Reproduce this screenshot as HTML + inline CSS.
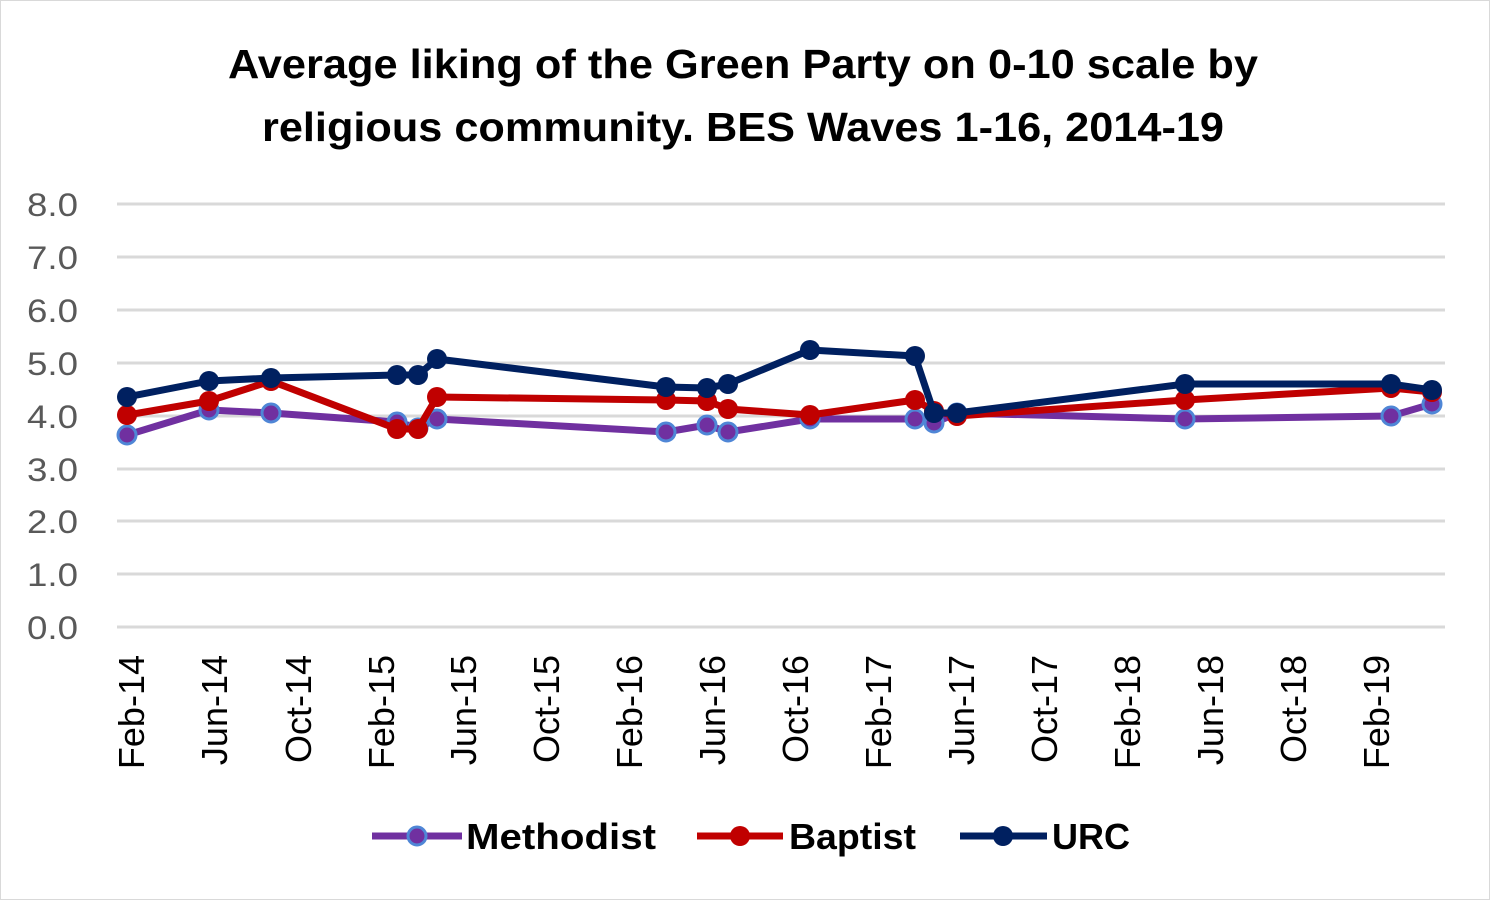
<!DOCTYPE html>
<html><head><style>body{margin:0;background:#fff}</style></head><body>
<svg width="1490" height="900" xmlns="http://www.w3.org/2000/svg" font-family="Liberation Sans, sans-serif">
<rect x="0.5" y="0.5" width="1489" height="899" fill="#fff" stroke="#d9d9d9"/>
<text x="228" y="78" textLength="1030" lengthAdjust="spacingAndGlyphs" font-size="41" font-weight="bold" fill="#000">Average liking of the Green Party on 0-10 scale by</text>
<text x="262" y="141" textLength="962" lengthAdjust="spacingAndGlyphs" font-size="41" font-weight="bold" fill="#000">religious community. BES Waves 1-16, 2014-19</text>
<g stroke="#d9d9d9" stroke-width="3">
<line x1="117" x2="1445" y1="204" y2="204"/><line x1="117" x2="1445" y1="257" y2="257"/><line x1="117" x2="1445" y1="310" y2="310"/><line x1="117" x2="1445" y1="363" y2="363"/><line x1="117" x2="1445" y1="416" y2="416"/><line x1="117" x2="1445" y1="469" y2="469"/><line x1="117" x2="1445" y1="521" y2="521"/><line x1="117" x2="1445" y1="574" y2="574"/><line x1="117" x2="1445" y1="627" y2="627"/>
</g>
<g font-size="32" fill="#595959">
<text x="27" y="216" textLength="51" lengthAdjust="spacingAndGlyphs">8.0</text><text x="27" y="269" textLength="51" lengthAdjust="spacingAndGlyphs">7.0</text><text x="27" y="322" textLength="51" lengthAdjust="spacingAndGlyphs">6.0</text><text x="27" y="375" textLength="51" lengthAdjust="spacingAndGlyphs">5.0</text><text x="27" y="428" textLength="51" lengthAdjust="spacingAndGlyphs">4.0</text><text x="27" y="481" textLength="51" lengthAdjust="spacingAndGlyphs">3.0</text><text x="27" y="533" textLength="51" lengthAdjust="spacingAndGlyphs">2.0</text><text x="27" y="586" textLength="51" lengthAdjust="spacingAndGlyphs">1.0</text><text x="27" y="639" textLength="51" lengthAdjust="spacingAndGlyphs">0.0</text>
</g>
<g font-size="36" fill="#000" text-anchor="end">
<text transform="translate(144,655) rotate(-90)">Feb-14</text>
<text transform="translate(227,655) rotate(-90)">Jun-14</text>
<text transform="translate(311,655) rotate(-90)">Oct-14</text>
<text transform="translate(394,655) rotate(-90)">Feb-15</text>
<text transform="translate(476,655) rotate(-90)">Jun-15</text>
<text transform="translate(559,655) rotate(-90)">Oct-15</text>
<text transform="translate(642,655) rotate(-90)">Feb-16</text>
<text transform="translate(725,655) rotate(-90)">Jun-16</text>
<text transform="translate(808,655) rotate(-90)">Oct-16</text>
<text transform="translate(891,655) rotate(-90)">Feb-17</text>
<text transform="translate(974,655) rotate(-90)">Jun-17</text>
<text transform="translate(1057,655) rotate(-90)">Oct-17</text>
<text transform="translate(1140,655) rotate(-90)">Feb-18</text>
<text transform="translate(1223,655) rotate(-90)">Jun-18</text>
<text transform="translate(1306,655) rotate(-90)">Oct-18</text>
<text transform="translate(1389,655) rotate(-90)">Feb-19</text>
</g>
<g fill="none" stroke-width="7" stroke-linejoin="round">
<polyline stroke="#7030a0" points="127,435 209,410 271,413 397,422 418,428 437,419 666,432 707,425 728,432 810,419 915,419 934,423 957,413 1185,419 1391,416 1432,404"/>
</g>
<g fill="#7030a0" stroke="#4f86d6" stroke-width="3">
<circle cx="127" cy="435" r="9"/><circle cx="209" cy="410" r="9"/><circle cx="271" cy="413" r="9"/><circle cx="397" cy="422" r="9"/><circle cx="418" cy="428" r="9"/><circle cx="437" cy="419" r="9"/><circle cx="666" cy="432" r="9"/><circle cx="707" cy="425" r="9"/><circle cx="728" cy="432" r="9"/><circle cx="810" cy="419" r="9"/><circle cx="915" cy="419" r="9"/><circle cx="934" cy="423" r="9"/><circle cx="957" cy="413" r="9"/><circle cx="1185" cy="419" r="9"/><circle cx="1391" cy="416" r="9"/><circle cx="1432" cy="404" r="9"/>
</g>
<polyline fill="none" stroke="#c00000" stroke-width="7" stroke-linejoin="round" points="127,415 209,401 271,381 397,429 418,429 437,397 666,400 707,401 728,409 810,415 915,400 934,411 957,416 1185,400 1391,388 1432,392"/>
<g fill="#c00000">
<circle cx="127" cy="415" r="10"/><circle cx="209" cy="401" r="10"/><circle cx="271" cy="381" r="10"/><circle cx="397" cy="429" r="10"/><circle cx="418" cy="429" r="10"/><circle cx="437" cy="397" r="10"/><circle cx="666" cy="400" r="10"/><circle cx="707" cy="401" r="10"/><circle cx="728" cy="409" r="10"/><circle cx="810" cy="415" r="10"/><circle cx="915" cy="400" r="10"/><circle cx="934" cy="411" r="10"/><circle cx="957" cy="416" r="10"/><circle cx="1185" cy="400" r="10"/><circle cx="1391" cy="388" r="10"/><circle cx="1432" cy="392" r="10"/>
</g>
<polyline fill="none" stroke="#002060" stroke-width="7" stroke-linejoin="round" points="127,397 209,381 271,378 397,375 418,375 437,359 666,387 707,388 728,384 810,350 915,356 934,413 957,413 1185,384 1391,384 1432,390"/>
<g fill="#002060">
<circle cx="127" cy="397" r="10"/><circle cx="209" cy="381" r="10"/><circle cx="271" cy="378" r="10"/><circle cx="397" cy="375" r="10"/><circle cx="418" cy="375" r="10"/><circle cx="437" cy="359" r="10"/><circle cx="666" cy="387" r="10"/><circle cx="707" cy="388" r="10"/><circle cx="728" cy="384" r="10"/><circle cx="810" cy="350" r="10"/><circle cx="915" cy="356" r="10"/><circle cx="934" cy="413" r="10"/><circle cx="957" cy="413" r="10"/><circle cx="1185" cy="384" r="10"/><circle cx="1391" cy="384" r="10"/><circle cx="1432" cy="390" r="10"/>
</g>
<g font-size="36" font-weight="bold" fill="#000">
<line x1="372" x2="462" y1="836" y2="836" stroke="#7030a0" stroke-width="7"/>
<circle cx="417" cy="836" r="9" fill="#7030a0" stroke="#4f86d6" stroke-width="3"/>
<text x="466" y="849" textLength="190" lengthAdjust="spacingAndGlyphs">Methodist</text>
<line x1="697" x2="783" y1="836" y2="836" stroke="#c00000" stroke-width="7"/>
<circle cx="740" cy="836" r="10" fill="#c00000"/>
<text x="789" y="849" textLength="127" lengthAdjust="spacingAndGlyphs">Baptist</text>
<line x1="960" x2="1047" y1="836" y2="836" stroke="#002060" stroke-width="7"/>
<circle cx="1003" cy="836" r="10" fill="#002060"/>
<text x="1052" y="849" textLength="78" lengthAdjust="spacingAndGlyphs">URC</text>
</g>
</svg>
</body></html>
